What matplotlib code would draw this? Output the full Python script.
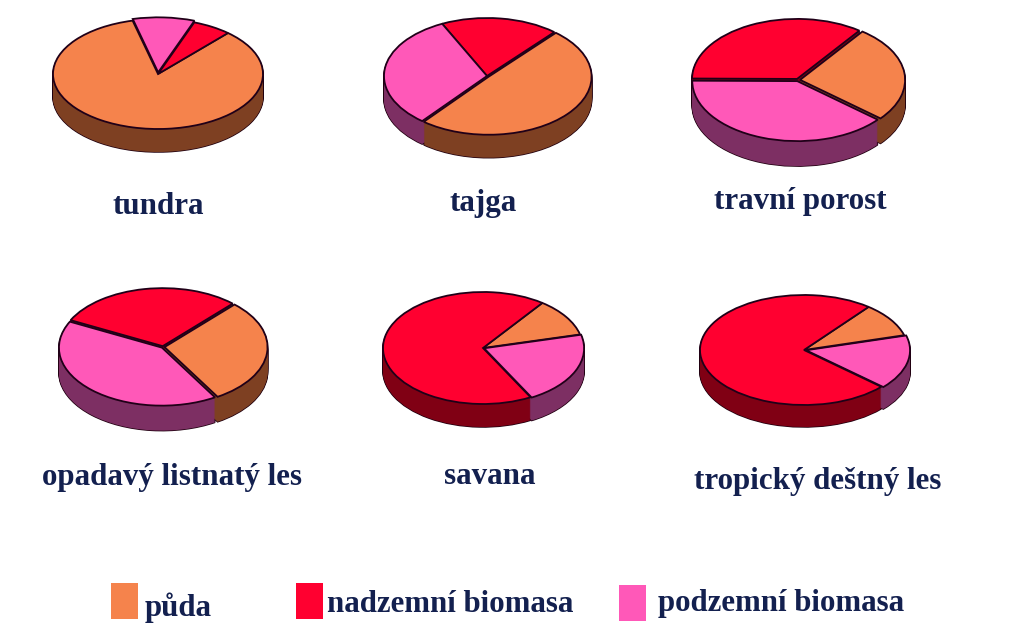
import matplotlib
matplotlib.use("Agg")
from matplotlib import pyplot as plt
from matplotlib.patches import Rectangle

W, H = 1024, 629

names = ["tundra", "tajga", "travní porost",
         "opadavý listnatý les", "savana", "tropický deštný les"]
legend_names = ["půda", "nadzemní biomasa", "podzemní biomasa"]

# shares of each biome: půda, nadzemní, podzemní
puda = [84.5, 49.5, 26, 29.5, 11, 10]
nadzemni = [6, 18.5, 35, 29.5, 68, 74]
podzemni = [9.5, 32, 39, 41, 21, 16]

top_colors = ["#F5834C", "#FF0030", "#FF58B8"]
side_colors = ["#7E4022", "#800014", "#7D2F63"]
text_color = "#13204F"

# slice order and start angle per pie, going counter clockwise
orders = [[0, 1, 2], [0, 1, 2], [0, 1, 2], [0, 1, 2], [0, 1, 2], [2, 0, 1]]
start_angles = [104, 231, -40, -59, 14, -42]
explodes = [[0, 0, 0.03], [0.02, 0, 0], [0.02, 0.02, 0.02],
            [0.015, 0.015, 0.015], [0, 0, 0.012], [0, 0, 0.02]]

# layout in pixels: centre x, centre y, half width, half height, depth
boxes = [(158, 74, 105, 55, 23), (487, 76, 103, 58, 23), (798, 80, 105, 60, 25),
         (163, 347, 103, 58, 25), (483, 348, 100, 56, 23), (804, 350, 104, 55, 22)]
label_pos = [(158, 206), (483, 203), (800, 202), (172, 478), (490, 476), (818, 481)]
legend_boxes = [(111, 583, 27, 36), (296, 583, 27, 36), (619, 585, 27, 36)]
legend_text = [(145, 608), (327, 604), (658, 604)]

plt.rcParams["font.family"] = ["Liberation Serif", "DejaVu Serif"]
fig = plt.figure(figsize=(W / 100, H / 100), dpi=100, facecolor="white")


def draw_pie(box, vals, order, start, explode):
    cx, cy, rx, ry, depth = box
    pad = 1.25
    ax = fig.add_axes([(cx - pad * rx) / W, 1 - (cy + pad * ry + depth) / H,
                       2 * pad * rx / W, (2 * pad * ry + depth) / H])
    v = [vals[i] for i in order]
    ex = [explode[i] for i in order]
    tops = [top_colors[i] for i in order]
    sides = [side_colors[i] for i in order]
    d = depth / ry
    steps = int(depth)
    # side wall: outlined stack first, clean fill over it, then the top face
    for k in range(steps, 0, -1):
        ax.pie(v, colors=sides, startangle=start, explode=ex, center=(0, -d * k / steps),
               wedgeprops=dict(edgecolor="#200010", linewidth=1.1))
    for k in range(steps, 0, -1):
        ax.pie(v, colors=sides, startangle=start, explode=ex, center=(0, -d * k / steps),
               wedgeprops=dict(edgecolor="none", linewidth=0))
    ax.pie(v, colors=tops, startangle=start, explode=ex,
           wedgeprops=dict(edgecolor="#200018", linewidth=1.3))
    ax.set_aspect("auto")
    ax.set_xlim(-pad, pad)
    ax.set_ylim(-pad - d, pad)
    ax.axis("off")


for i in range(len(names)):
    vals = [puda[i], nadzemni[i], podzemni[i]]
    draw_pie(boxes[i], vals, orders[i], start_angles[i], explodes[i])
    x, y = label_pos[i]
    fig.text(x / W, 1 - y / H, names[i], ha="center", va="center", color=text_color,
             fontsize=22.3, fontweight="bold")

# legend
for i in range(3):
    x, y, w, h = legend_boxes[i]
    fig.add_artist(Rectangle((x / W, 1 - (y + h) / H), w / W, h / H, transform=fig.transFigure,
                             facecolor=top_colors[i], edgecolor="none"))
    tx, ty = legend_text[i]
    fig.text(tx / W, 1 - ty / H, legend_names[i], ha="left", va="center", color=text_color,
             fontsize=22.2, fontweight="bold")

fig.savefig("out.png", dpi=100)
